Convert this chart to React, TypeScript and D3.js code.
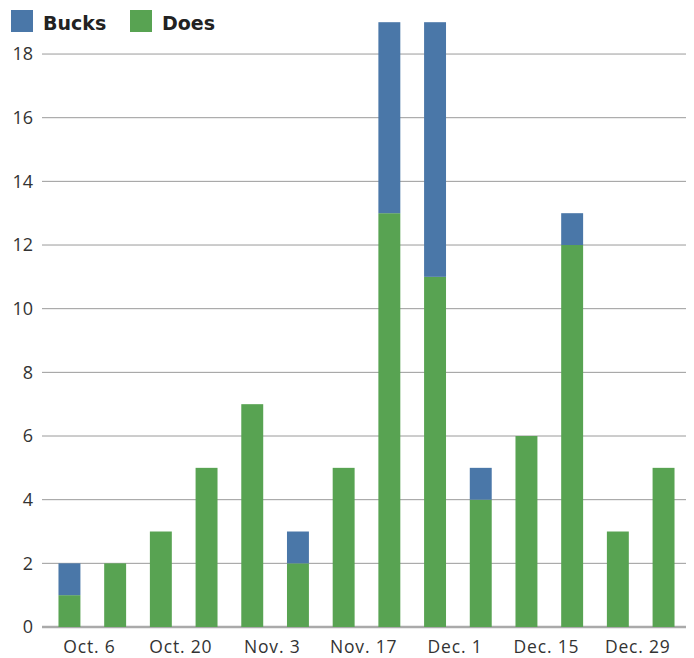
import React, { useEffect, useRef } from 'react';
import * as d3 from 'd3';

const weeks = ['Oct. 6', 'Oct. 13', 'Oct. 20', 'Oct. 27', 'Nov. 3', 'Nov. 10', 'Nov. 17',
  'Nov. 24', 'Dec. 1', 'Dec. 8', 'Dec. 15', 'Dec. 22', 'Dec. 29', 'Jan. 5']
const does = [1, 2, 3, 5, 7, 2, 5, 13, 11, 4, 6, 12, 3, 5]
const bucks = [1, 0, 0, 0, 0, 1, 0, 6, 8, 1, 0, 1, 0, 0]
const yTicks = [0, 2, 4, 6, 8, 10, 12, 14, 16, 18]
const xLabels = ['Oct. 6', 'Oct. 20', 'Nov. 3', 'Nov. 17', 'Dec. 1', 'Dec. 15', 'Dec. 29']

const width = 694
const height = 658
const colors = { Bucks: '#4a77a8', Does: '#58a352' }
const font = '"Open Sans", sans-serif'

const Chart = () => {
  const ref = useRef(null)

  useEffect(() => {
    const svg = d3.select(ref.current)
    svg.selectAll('*').remove()

    const data = weeks.map((w, i) => ({ week: w, Does: does[i], Bucks: bucks[i] }))
    const stack = d3.stack().keys(['Does', 'Bucks'])(data)

    const x = d3.scaleBand()
      .domain(weeks)
      .range([46.6, 686.4])
      .paddingInner(0.52)
      .paddingOuter(0.26)

    const y = d3.scaleLinear()
      .domain([0, 19])
      .range([627, 22.2])

    // grid lines
    svg.append('g')
      .selectAll('line')
      .data(yTicks)
      .enter()
      .append('line')
      .attr('x1', 42)
      .attr('x2', 686)
      .attr('y1', d => y(d))
      .attr('y2', d => y(d))
      .attr('stroke', d => d === 0 ? '#aaaaaa' : '#9a9a9a')
      .attr('stroke-width', d => d === 0 ? 2.5 : 1)

    // y labels
    svg.append('g')
      .selectAll('text')
      .data(yTicks)
      .enter()
      .append('text')
      .attr('x', 33)
      .attr('y', d => y(d))
      .attr('dy', '0.35em')
      .attr('text-anchor', 'end')
      .style('font-family', font)
      .style('font-size', '18px')
      .style('fill', '#333')
      .text(d => d)

    // bars
    svg.append('g')
      .selectAll('g')
      .data(stack)
      .enter()
      .append('g')
      .attr('fill', d => colors[d.key])
      .selectAll('rect')
      .data(d => d)
      .enter()
      .append('rect')
      .attr('x', d => x(d.data.week))
      .attr('y', d => y(d[1]))
      .attr('width', x.bandwidth())
      .attr('height', d => y(d[0]) - y(d[1]))

    // x labels, every other week, drawn a bit right of the bar
    svg.append('g')
      .selectAll('text')
      .data(xLabels)
      .enter()
      .append('text')
      .attr('x', d => x(d) + x.bandwidth() / 2 + 20)
      .attr('y', 653)
      .attr('text-anchor', 'middle')
      .style('font-family', font)
      .style('font-size', '17.5px')
      .style('letter-spacing', '0.8px')
      .style('fill', '#333')
      .text(d => d)

    // legend
    const legend = svg.append('g')
      .selectAll('g')
      .data([['Bucks', 11], ['Does', 130]])
      .enter()
      .append('g')
      .attr('transform', d => `translate(${d[1]},10)`)
    legend.append('rect')
      .attr('width', 22)
      .attr('height', 22)
      .attr('fill', d => colors[d[0]])
    legend.append('text')
      .attr('x', 32)
      .attr('y', 19.5)
      .style('font-family', '"DejaVu Sans", sans-serif')
      .style('font-weight', 'bold')
      .style('font-size', '19px')
      .style('fill', '#222')
      .text(d => d[0])
  }, [])

  return <svg ref={ref} width={width} height={height} style={{ display: 'block' }}></svg>
}

export default function App() {
  return (
    <div style={{ position: 'absolute', left: 0, top: 0 }}>
      <Chart />
    </div>
  )
}
